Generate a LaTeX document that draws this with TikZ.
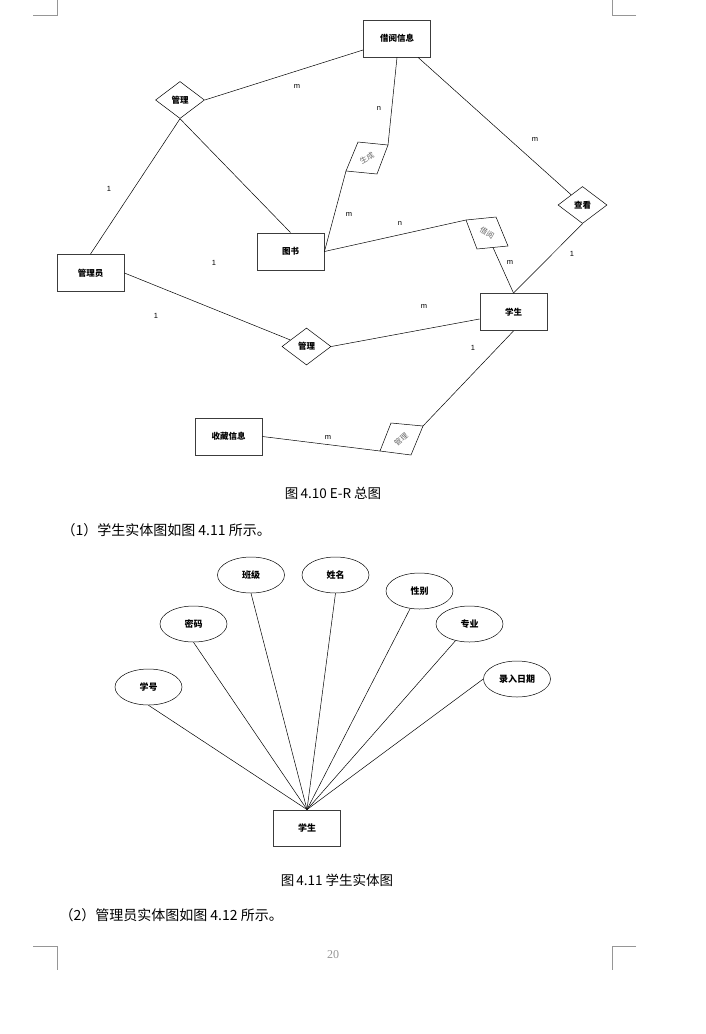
\documentclass[tikz,border=0pt]{standalone}
\usepackage{fontspec}
\setmainfont{Liberation Serif}
\newfontfamily\cjk{Noto Sans CJK SC}
\newfontfamily\labfont{Liberation Sans}
\usetikzlibrary{shapes.geometric}
\definecolor{markgray}{RGB}{150,150,150}
\definecolor{edgegray}{RGB}{60,60,60}

\begin{document}
\begin{tikzpicture}[x=1pt,y=-1pt,
    entity/.style={draw=edgegray, line width=0.9pt, minimum width=67pt,
                   minimum height=37pt, inner sep=1pt,
                   font=\cjk\bfseries\fontsize{8.5}{10}\selectfont},
    relation/.style={draw=black, diamond, line width=0.5pt, minimum width=49pt,
                     minimum height=37pt, inner sep=0pt,
                     font=\cjk\bfseries\fontsize{8.5}{10}\selectfont},
    tilted/.style={text=black!60, inner sep=0pt, font=\cjk\fontsize{7.5}{9}\selectfont},
    attrib/.style={draw=black, ellipse, line width=0.5pt, minimum width=67pt,
                   minimum height=36pt, inner sep=0pt,
                   font=\cjk\bfseries\fontsize{9}{11}\selectfont},
    card/.style={font=\labfont\fontsize{7.5}{9}\selectfont},
    link/.style={line width=0.5pt},
    caption/.style={font=\cjk\fontsize{13.5}{16}\selectfont},
    bodytext/.style={font=\cjk\fontsize{14}{17}\selectfont, anchor=west}]
  \useasboundingbox (0,0) rectangle (705,1034);
  % page corner marks
  \draw[markgray, line width=0.6pt] (33,15) -- (57,15) -- (57,0);
  \draw[markgray, line width=0.6pt] (636,15) -- (612,15) -- (612,0);
  \draw[markgray, line width=0.6pt] (33,946) -- (57,946) -- (57,970);
  \draw[markgray, line width=0.6pt] (636,946) -- (612,946) -- (612,970);

  % E-R overview
  \node[entity] (info) at (397,38.5) {借阅信息};
  \node[entity] (book) at (290.5,251.5) {图书};
  \node[entity] (adm) at (90.5,273) {管理员};
  \node[entity] (stu) at (513.5,312) {学生};
  \node[entity] (fav) at (228.5,436.5) {收藏信息};
  \node[relation] (mgtop) at (180,100) {管理};
  \node[relation] (chk) at (582.5,205) {查看};
  \node[relation] (mgmid) at (306.5,346.5) {管理};

  % slanted relation boxes
  \coordinate (genA) at (358,142);
  \coordinate (genB) at (388,145);
  \coordinate (genC) at (377,174);
  \coordinate (genD) at (346,171);
  \draw[link] (genA) -- (genB) -- (genC) -- (genD) -- cycle;
  \node[tilted, rotate=30] (gen) at (367,158) {生成};

  \coordinate (brwA) at (466,220);
  \coordinate (brwB) at (496,217);
  \coordinate (brwC) at (508,246);
  \coordinate (brwD) at (477,249);
  \coordinate (brwM) at (493,247.5);
  \draw[link] (brwA) -- (brwB) -- (brwC) -- (brwD) -- cycle;
  \node[tilted, rotate=-30] (brw) at (487,233) {借阅};

  \coordinate (mgA) at (391,423);
  \coordinate (mgB) at (423,426);
  \coordinate (mgC) at (411,455);
  \coordinate (mgD) at (380,451);
  \draw[link] (mgA) -- (mgB) -- (mgC) -- (mgD) -- cycle;
  \node[tilted, rotate=40] (mglow) at (401,439) {管理};

  % connectors
  \draw[link] (mgtop.east) -- ([yshift=-11.5pt]info.west);
  \draw[link] (mgtop.south) -- (adm.north);
  \draw[link] (mgtop.south) -- (book.north);
  \draw[link] (info.south) -- (genB);
  \draw[link] (genD) -- (book.east);
  \draw[link] (book.east) -- (brwA);
  \draw[link] (brwM) -- (stu.north);
  \draw[link] (info) -- (chk);
  \draw[link] (chk.south) -- (stu.north);
  \draw[link] (adm.east) -- (mgmid);
  \draw[link] (mgmid.east) -- ([yshift=-7pt]stu.west);
  \draw[link] (stu.south) -- (mgB);
  \draw[link] (fav.east) -- (mgD);

  % cardinalities
  \node[card] (c1) at (297,86) {m};
  \node[card] (c2) at (379,108) {n};
  \node[card] (c3) at (109,189) {1};
  \node[card] (c4) at (349,214) {m};
  \node[card] (c5) at (400,223) {n};
  \node[card] (c6) at (535,139) {m};
  \node[card] (c7) at (572,254) {1};
  \node[card] (c8) at (510,262) {m};
  \node[card] (c9) at (214,263) {1};
  \node[card] (c10) at (156,316) {1};
  \node[card] (c11) at (424,306) {m};
  \node[card] (c12) at (473,348) {1};
  \node[card] (c13) at (328,437) {m};

  \node[caption] (cap1) at (333,493) {图\,4.10 E-R 总图};
  \node[bodytext] (txt1) at (58,530) {（1）学生实体图如图 4.11 所示。};

  % student entity diagram
  \node[entity, minimum height=36pt, font=\cjk\bfseries\fontsize{9}{11}\selectfont]
       (stu2) at (307,828) {学生};
  \node[attrib] (sno) at (148.5,687) {学号};
  \node[attrib] (pwd) at (193.5,624) {密码};
  \node[attrib] (cls) at (251,575) {班级};
  \node[attrib] (nam) at (335.5,575) {姓名};
  \node[attrib] (sex) at (419.5,591) {性别};
  \node[attrib] (maj) at (469.5,624) {专业};
  \node[attrib] (ent) at (517,679) {录入日期};

  \draw[link] (sno.south) -- (stu2.north);
  \draw[link] (pwd.south) -- (stu2.north);
  \draw[link] (cls.south) -- (stu2.north);
  \draw[link] (nam.south) -- (stu2.north);
  \draw[link] (sex.242) -- (stu2.north);
  \draw[link] (maj.230) -- (stu2.north);
  \draw[link] (ent.west) -- (stu2.north);

  \node[caption] (cap2) at (337,880) {图\,4.11 学生实体图};
  \node[bodytext] (txt2) at (56,915) {（2）管理员实体图如图 4.12 所示。};
  \node[text=markgray, font=\fontsize{12}{14}\selectfont] (pg) at (333,955) {20};
\end{tikzpicture}
\end{document}
